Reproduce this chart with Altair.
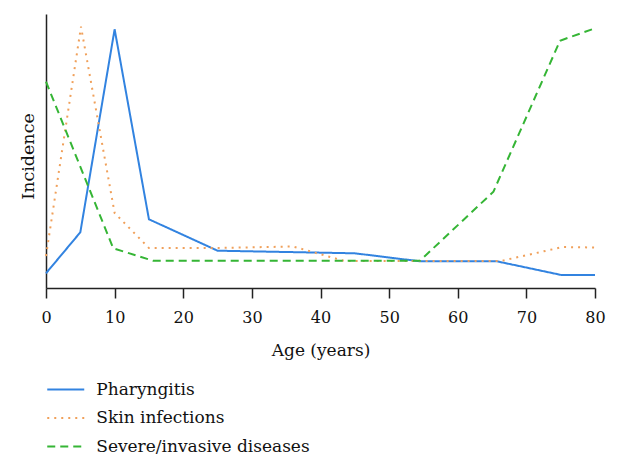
import altair as alt
import pandas as pd

# Series names (legend order)
series_names = ["Pharyngitis", "Skin infections", "Severe/invasive diseases"]
series_colors = ["#3283e0", "#f0a05a", "#35b535"]

# Pharyngitis
ph_age = [0, 5, 10, 15, 25, 45, 54.5, 65.7, 75.1, 80]
ph_inc = [14.7, 55.7, 258.7, 68.7, 37.3, 34.7, 26.7, 26.7, 13, 13]

# Skin infections
sk_age = [0, 5.1, 10, 15, 25, 36, 43.5, 66.3, 75.3, 80]
sk_inc = [32, 261.3, 75, 40, 40, 41.5, 27, 27, 41, 40.5]

# Severe/invasive diseases
sv_age = [0, 9.8, 15.6, 54.5, 65.2, 74.9, 80]
sv_inc = [206.3, 39.7, 27.3, 27.3, 96.3, 247.3, 259.7]

x_ticks = [0, 10, 20, 30, 40, 50, 60, 70, 80]

rows = []
for name, ages, vals in [
    (series_names[0], ph_age, ph_inc),
    (series_names[1], sk_age, sk_inc),
    (series_names[2], sv_age, sv_inc),
]:
    for a, v in zip(ages, vals):
        rows.append({"age": a, "incidence": v, "series": name})
df = pd.DataFrame(rows)

FONT = "DejaVu Serif"

legend_spec = alt.Legend(title=None, orient="none", legendX=9.25, legendY=365)

chart = (
    alt.Chart(df)
    .mark_line(strokeWidth=2)
    .encode(
        x=alt.X(
            "age:Q",
            scale=alt.Scale(domain=[0, 80], nice=False, zero=False),
            axis=alt.Axis(
                values=x_ticks,
                title="Age (years)",
                grid=False,
                tickSize=10,
                tickWidth=1.5,
                tickColor="#222222",
                domainColor="#222222",
                domainWidth=1.5,
                labelFontSize=16,
                labelColor="#111111",
                labelPadding=11,
                labelFlush=False,
                titleFontSize=17,
                titleFontWeight="normal",
                titleColor="#111111",
                titleBaseline="alphabetic",
                titleY=67,
            ),
        ),
        y=alt.Y(
            "incidence:Q",
            scale=alt.Scale(domain=[0, 274], nice=False, zero=True),
            axis=alt.Axis(
                title="Incidence",
                grid=False,
                ticks=False,
                labels=False,
                domainColor="#222222",
                domainWidth=1.5,
                titleFontSize=17.5,
                titleFontWeight="normal",
                titleColor="#111111",
                titleBaseline="alphabetic",
                titleAlign="center",
                titleX=-13,
                titleY=142,
            ),
        ),
        color=alt.Color(
            "series:N",
            scale=alt.Scale(domain=series_names, range=series_colors),
            legend=legend_spec,
        ),
        strokeDash=alt.StrokeDash(
            "series:N",
            scale=alt.Scale(domain=series_names, range=[[1, 0], [2, 5], [8, 5]]),
            legend=legend_spec,
        ),
        order=alt.Order("age:Q"),
    )
    .properties(
        width=549,
        height=274,
        autosize=alt.AutoSizeParams(type="none"),
        padding={"left": 38, "top": 6, "right": 15, "bottom": 168},
    )
    .configure(font=FONT)
    .configure_view(strokeWidth=0)
    .configure_axis(labelFont=FONT, titleFont=FONT)
    .configure_legend(
        padding=0,
        symbolType="M-2,0H2",
        symbolSize=342,
        symbolStrokeWidth=2,
        labelFont=FONT,
        labelFontSize=17,
        labelColor="#111111",
        labelOffset=20,
        labelLimit=0,
        rowPadding=9.5,
    )
)

chart.save("out.html", embed_options={"renderer": "svg", "actions": False})
